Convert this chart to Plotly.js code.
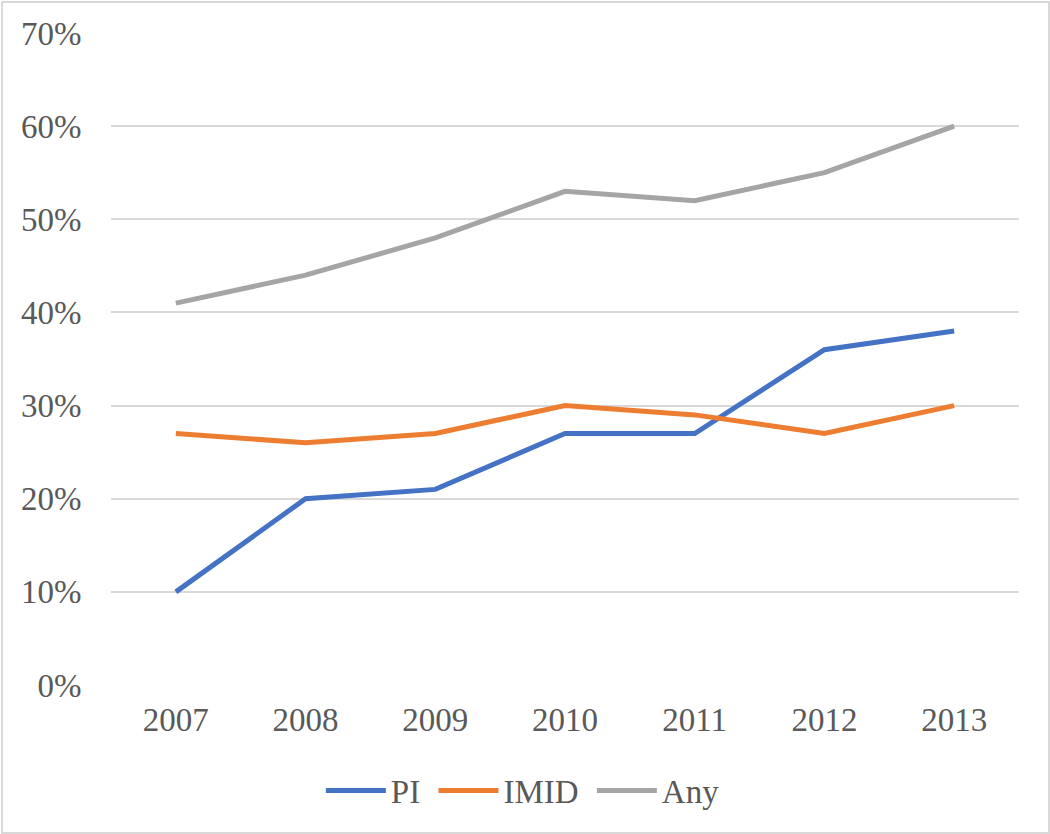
<!DOCTYPE html>
<html>
<head>
<meta charset="utf-8">
<script src="https://cdn.plot.ly/plotly-3.0.1.min.js"></script>
<style>
html,body{margin:0;padding:0;background:#fff;}
#wrap{position:relative;width:1050px;height:834px;}
#chart{width:1050px;height:834px;}
#frame{position:absolute;left:1px;top:1px;width:1045px;height:829px;border:2px solid #d9d9d9;pointer-events:none;}
</style>
</head>
<body>
<div id="wrap"><div id="chart"></div><div id="frame"></div></div>
<script>
const years = ['2007','2008','2009','2010','2011','2012','2013'];
const pi   = [0.10, 0.20, 0.21, 0.27, 0.27, 0.36, 0.38];
const imid = [0.27, 0.26, 0.27, 0.30, 0.29, 0.27, 0.30];
const any  = [0.41, 0.44, 0.48, 0.53, 0.52, 0.55, 0.60];
const seriesNames = ['PI', 'IMID', 'Any'];
const yTicks = [0,0.1,0.2,0.3,0.4,0.5,0.6,0.7];

const mk = (name, y, color) => ({
  type:'scatter', mode:'lines', name: name + '\u00a0', x: years, y,
  line:{color, width:5}
});

const data = [mk(seriesNames[0], pi, '#4472C4'), mk(seriesNames[1], imid, '#ED7D31'), mk(seriesNames[2], any, '#A5A5A5')];

const font = {family:'"Liberation Serif", "Times New Roman", serif', size:33, color:'#595959'};

const layout = {
  width:1050, height:834,
  margin:{l:111, r:31, t:33, b:149},
  paper_bgcolor:'#fff', plot_bgcolor:'#fff',
  font,
  showlegend:true,
  legend:{orientation:'h', x:0.458, xanchor:'center', y:-0.162, yanchor:'middle', font, itemwidth:60, tracegroupgap:0},
  xaxis:{type:'category', range:[-0.5,6.5], showgrid:false, zeroline:false, showline:false,
         ticks:'outside', ticklen:5, tickcolor:'rgba(0,0,0,0)', tickfont:font},
  yaxis:{range:[0,0.7], tickvals:yTicks, tickformat:'.0%', showgrid:true, gridcolor:'#d9d9d9', gridwidth:2,
         zeroline:false, showline:false, ticks:'outside', ticklen:22, tickcolor:'rgba(0,0,0,0)', tickfont:font}
};

Plotly.newPlot('chart', data, layout, {displayModeBar:false, staticPlot:true});
</script>
</body>
</html>
